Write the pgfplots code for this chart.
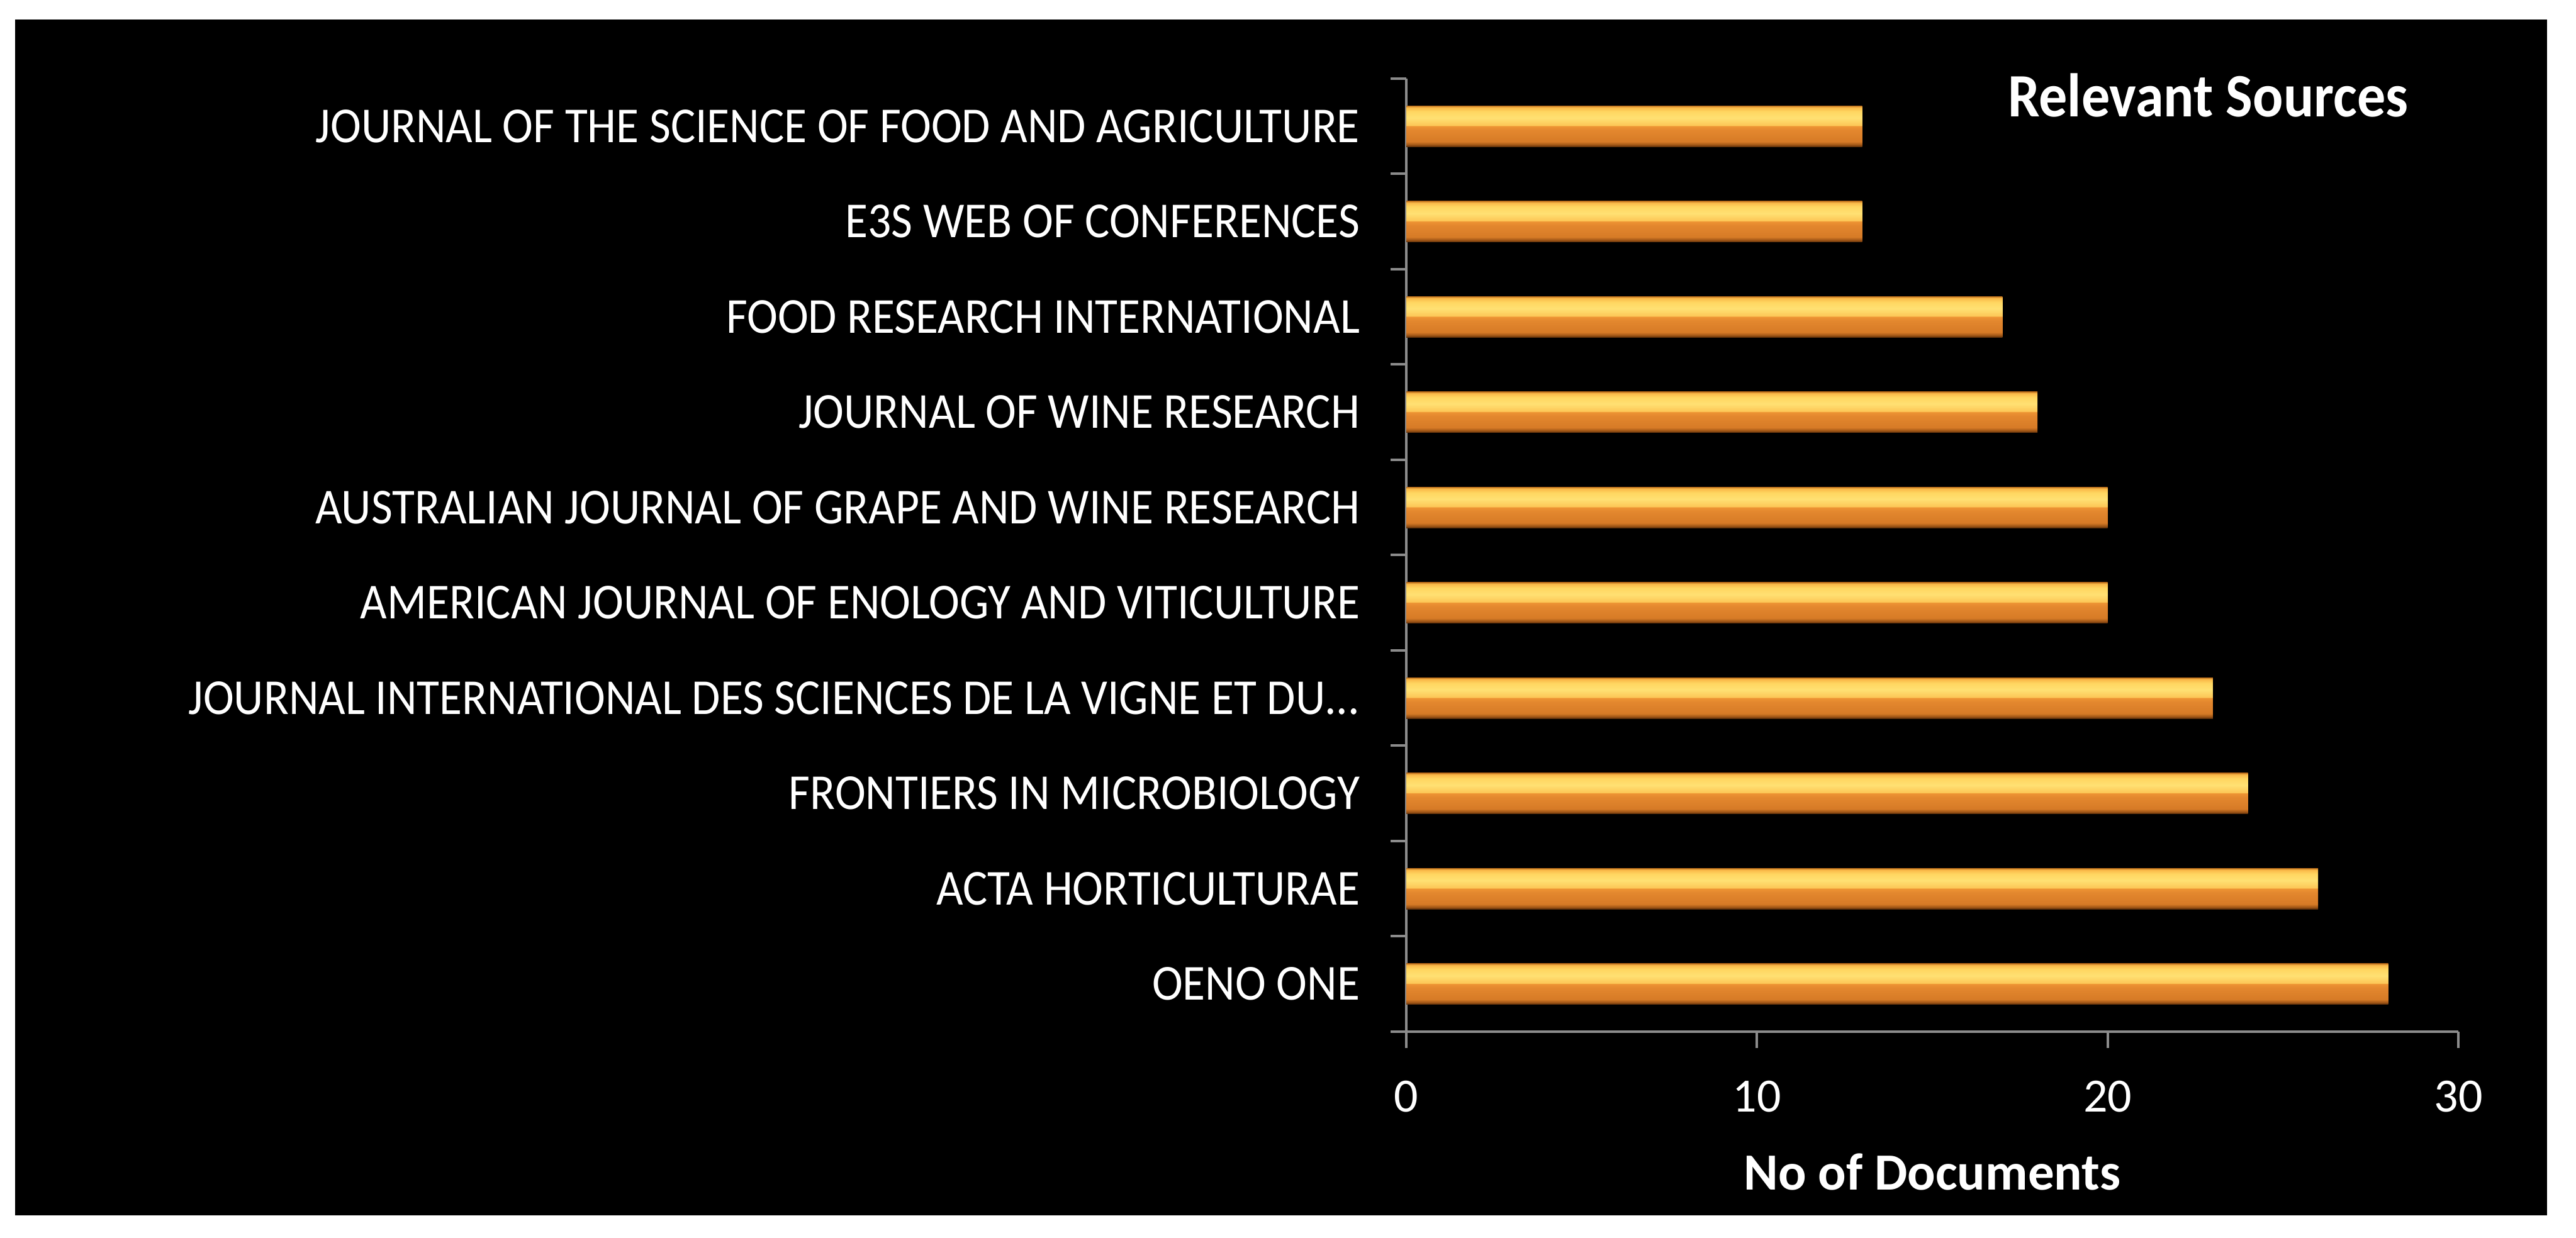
\documentclass[border=0pt]{standalone}
\usepackage{fontspec}
\setmainfont{Carlito}
\usepackage{graphicx}
\usepackage{pgfplots}
\pgfplotsset{compat=1.18}

\definecolor{axgray}{RGB}{140,140,140}
% two-tone bevel look of the bars: light upper half, orange lower half
\pgfdeclareverticalshading{barshade}{100bp}{
  rgb(0bp)=(0.35,0.18,0.04);
  rgb(25bp)=(0.35,0.18,0.04);
  rgb(27bp)=(0.60,0.32,0.08);
  rgb(31bp)=(0.84,0.48,0.15);
  rgb(45bp)=(0.89,0.53,0.18);
  rgb(50bp)=(0.93,0.58,0.20);
  rgb(51bp)=(0.99,0.78,0.34);
  rgb(60bp)=(1.00,0.88,0.45);
  rgb(68bp)=(1.00,0.84,0.38);
  rgb(73bp)=(0.98,0.72,0.28);
  rgb(75bp)=(0.75,0.45,0.12);
  rgb(100bp)=(0.75,0.45,0.12)}

\newcommand{\sq}[1]{\scalebox{0.92}[1]{#1}}

\begin{document}
\begin{tikzpicture}
\fill[white] (0,0) rectangle (409.4pt,196.8pt);
\fill[black] (2.4pt,3.6pt) rectangle (404.8pt,193.7pt);
\begin{axis}[
  at={(223.5pt,32.8pt)}, anchor=south west,
  scale only axis, width=167.2pt, height=151.5pt,
  xmin=0, xmax=30, ymin=-0.5, ymax=9.5,
  axis lines*=left,
  axis line style={axgray, line width=0.4pt},
  tick align=outside,
  major tick length=2.6pt,
  minor tick length=2.5pt,
  xtick={0,10,20,30},
  every major x tick/.append style={axgray, line width=0.4pt},
  ytick={0,...,9},
  every major y tick/.append style={draw=none},
  minor ytick={-0.5,0.5,...,9.5},
  every minor y tick/.append style={axgray, line width=0.4pt},
  yticklabels={
    \sq{OENO ONE},
    \sq{ACTA HORTICULTURAE},
    \sq{FRONTIERS IN MICROBIOLOGY},
    \sq{JOURNAL INTERNATIONAL DES SCIENCES DE LA VIGNE ET DU...}\hspace{-5.2pt},
    \sq{AMERICAN JOURNAL OF ENOLOGY AND VITICULTURE},
    \sq{AUSTRALIAN JOURNAL OF GRAPE AND WINE RESEARCH},
    \sq{JOURNAL OF WINE RESEARCH},
    \sq{FOOD RESEARCH INTERNATIONAL},
    \sq{E3S WEB OF CONFERENCES},
    \sq{JOURNAL OF THE SCIENCE OF FOOD AND AGRICULTURE}},
  /pgf/number format/assume math mode=true,
  ticklabel style={text=white, inner sep=0pt},
  yticklabel style={font=\fontsize{8}{9.6}\selectfont, anchor=east, xshift=-4.6pt},
  xticklabel style={font=\fontsize{7.6}{9}\selectfont, anchor=north, yshift=-5pt},
  xlabel={No of Documents},
  xlabel style={at={(axis description cs:0.5,0)}, anchor=base, yshift=-25.2pt,
    inner sep=0pt, text=white, font=\bfseries\fontsize{8.3}{10}\selectfont},
  clip=false,
  % one plot per bar, so that each bar gets its own shading
  gbar/.style={xbar, bar width=6.5pt, bar shift=0pt,
    draw=none, shade, shading=barshade, mark=none},
]
\addplot[gbar] coordinates {(28,0)};
\addplot[gbar] coordinates {(26,1)};
\addplot[gbar] coordinates {(24,2)};
\addplot[gbar] coordinates {(23,3)};
\addplot[gbar] coordinates {(20,4)};
\addplot[gbar] coordinates {(20,5)};
\addplot[gbar] coordinates {(18,6)};
\addplot[gbar] coordinates {(17,7)};
\addplot[gbar] coordinates {(13,8)};
\addplot[gbar] coordinates {(13,9)};
\end{axis}
\node[anchor=base west, inner sep=0pt, text=white,
  font=\bfseries\fontsize{9.8}{12}\selectfont] at (318.9pt,178.2pt) {\sq{Relevant Sources}};
\end{tikzpicture}
\end{document}
